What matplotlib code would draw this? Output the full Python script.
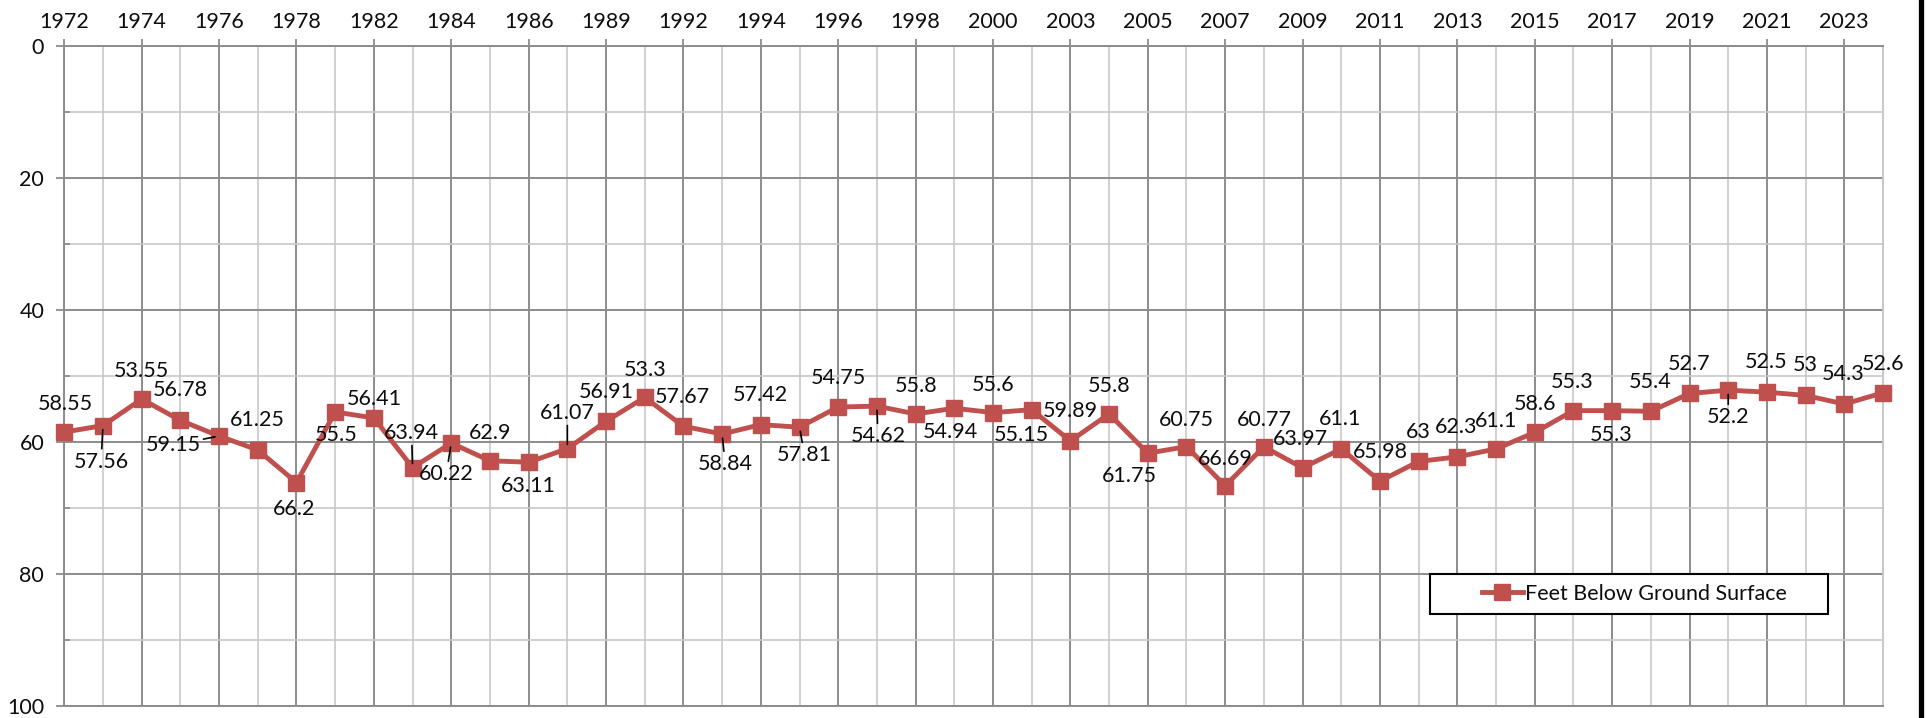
import matplotlib
matplotlib.use("Agg")
import matplotlib.pyplot as plt
from matplotlib.lines import Line2D
from matplotlib.patches import Rectangle
from matplotlib.ticker import FixedLocator, FixedFormatter, MultipleLocator
import numpy as np

plt.rcParams['font.family'] = ['Lato', 'DejaVu Sans']

# ---------------- data ----------------
years = ['1972', '1973', '1974', '1975', '1976', '1977', '1978', '1980',
         '1982', '1983', '1984', '1985', '1986', '1988', '1989', '1991',
         '1992', '1993', '1994', '1995', '1996', '1997', '1998', '1999',
         '2000', '2002', '2003', '2004', '2005', '2006', '2007', '2008',
         '2009', '2010', '2011', '2012', '2013', '2014', '2015', '2016',
         '2017', '2018', '2019', '2020', '2021', '2022', '2023', '2024']
depth = [58.55, 57.56, 53.55, 56.78, 59.15, 61.25, 66.2, 55.5,
         56.41, 63.94, 60.22, 62.9, 63.11, 61.07, 56.91, 53.3,
         57.67, 58.84, 57.42, 57.81, 54.75, 54.62, 55.8, 54.94,
         55.6, 55.15, 59.89, 55.8, 61.75, 60.75, 66.69, 60.77,
         63.97, 61.1, 65.98, 63, 62.3, 61.1, 58.6, 55.3,
         55.3, 55.4, 52.7, 52.2, 52.5, 53, 54.3, 52.6]
series_name = 'Feet Below Ground Surface'

# label placement (pixel offsets from the point: dx right, dy down)
label_dx = [1, -2, 0, 0, -46, 0, -2, 1, 0, -1, -5, 0, 0, 0, 0, 0,
            -1, 3, 0, 5, 0, 1, 0, -4, 0, -10, 0, 0, -18, 0, 0, 1,
            -2, -1, 0, 0, -1, 0, 0, -1, -1, -1, 0, 0, -1, 0, -1, 0]
label_dy = [-28, 36, -28, -30, 9, -30, 26, 23, -19, -35, 31, -28, 24, -36, -29, -27,
            -29, 30, -30, 28, -29, 30, -28, 24, -28, 25, -30, -28, 23, -27, -27, -27,
            -29, -30, -29, -29, -30, -28, -28, -29, 24, -29, -29, 27, -30, -30, -30, -29]
leader_idx = [1, 4, 9, 10, 13, 17, 19, 21, 43]

# ---------------- figure ----------------
W, H = 1931, 718
fig = plt.figure(figsize=(W / 100, H / 100), dpi=100)
fig.patch.set_facecolor('white')
left_px, right_px, top_px, bot_px = 64.3, 1883, 45.6, 705.7
ax = fig.add_axes([left_px / W, 1 - bot_px / H, (right_px - left_px) / W, (bot_px - top_px) / H])

x = np.arange(len(years))
red = '#C0504D'
FS = 15.5
ax.plot(x, depth, color=red, lw=3.5, marker='s', ms=11.5, mfc=red, mec=red,
        mew=1, label=series_name, zorder=3, clip_on=False)

ax.set_xlim(0, len(years) - 1)
ax.set_ylim(100, 0)

# x axis on top, labels every other category
ax.xaxis.tick_top()
ax.xaxis.set_major_locator(FixedLocator(x[::2]))
ax.xaxis.set_major_formatter(FixedFormatter(years[::2]))
ax.xaxis.set_minor_locator(FixedLocator(x[1::2]))
ax.yaxis.set_major_locator(MultipleLocator(20))
ax.yaxis.set_minor_locator(MultipleLocator(10))

major_c = '#8c8c8c'
minor_c = '#c8c8c8'
ax.tick_params(axis='x', which='major', top=True, bottom=False, direction='out',
               length=5.4, width=1.3, color=major_c, labelsize=FS, pad=4.5,
               labelcolor='#0d0d0d')
ax.tick_params(axis='x', which='minor', top=False, bottom=False, length=0)
ax.tick_params(axis='y', which='major', direction='out', length=5.5, width=1.3,
               color=major_c, labelsize=FS, pad=9.0, labelcolor='#0d0d0d')
ax.tick_params(axis='y', which='minor', direction='in', length=4, width=1.3,
               color=major_c)

ax.set_axisbelow(True)
ax.grid(which='major', color=major_c, lw=1.4)
ax.grid(which='minor', color=minor_c, lw=1.2)

for s in ['left', 'top', 'bottom']:
    ax.spines[s].set_color(major_c)
    ax.spines[s].set_linewidth(1.4)
ax.spines['right'].set_color(minor_c)
ax.spines['right'].set_linewidth(1.4)

# data labels
k = 0.72  # px -> pt at 100 dpi
for i, v in enumerate(depth):
    kw = {}
    if i in leader_idx:
        kw['arrowprops'] = dict(arrowstyle='-', color='black', lw=1.2,
                                shrinkA=0, shrinkB=3)
    ax.annotate(f'{v:g}', xy=(i, v), xytext=(label_dx[i] * k, -label_dy[i] * k),
                textcoords='offset points', ha='center', va='center',
                fontsize=FS, color='#0d0d0d', zorder=4, annotation_clip=False, **kw)

# legend with a square black frame
lx0 = (1430 - left_px) / (right_px - left_px)
lx1 = (1828 - left_px) / (right_px - left_px)
ly0 = 1 - (614 - top_px) / (bot_px - top_px)
ly1 = 1 - (574 - top_px) / (bot_px - top_px)
ax.add_patch(Rectangle((lx0, ly0), lx1 - lx0, ly1 - ly0, transform=ax.transAxes,
                       facecolor='white', edgecolor='black', lw=1.5, zorder=5))
leg = ax.legend(loc='center', bbox_to_anchor=((lx0 + lx1) / 2 + 0.003, (ly0 + ly1) / 2),
                frameon=False, fontsize=FS, handlelength=1.9, handletextpad=0.1,
                borderpad=0.2)
leg.set_zorder(6)
for t in leg.get_texts():
    t.set_color('#0d0d0d')

# black vertical border at the right of the image
fig.add_artist(Line2D([1921.5 / W, 1921.5 / W], [0, 1], transform=fig.transFigure,
                      color='black', lw=3.8))

fig.savefig('out.png', dpi=100, facecolor='white')
